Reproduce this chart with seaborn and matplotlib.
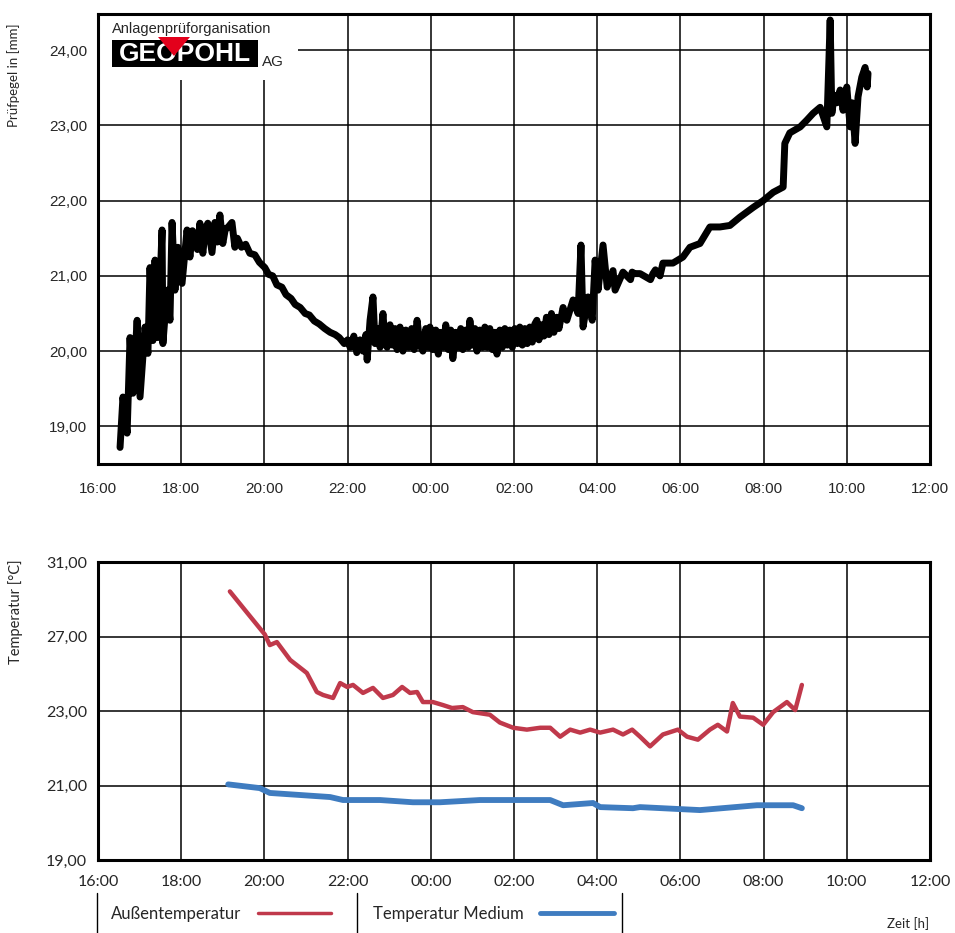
import numpy as np
import pandas as pd
import matplotlib
matplotlib.use("Agg")
import matplotlib.pyplot as plt
import seaborn as sns
from matplotlib.lines import Line2D
from matplotlib.patches import Rectangle, Polygon
from matplotlib.ticker import FuncFormatter, FixedLocator

# --- Prüfpegel (hours counted from 00:00 of day 1, so 24 = midnight) ---
pegel_h = [16.53, 16.60, 16.70, 16.77, 16.84, 16.94, 17.01, 17.13, 17.20, 17.25,
           17.32, 17.37, 17.44, 17.54, 17.56, 17.66, 17.73, 17.78, 17.85, 17.92,
           18.02, 18.14, 18.21, 18.27, 18.33, 18.39, 18.45, 18.52, 18.58, 18.64,
           18.74, 18.81, 18.87, 18.93, 19.00, 19.06, 19.13, 19.22, 19.29, 19.35,
           19.45, 19.55, 19.65, 19.77, 19.88, 20.01, 20.10, 20.20, 20.30, 20.42,
           20.52, 20.64, 20.74, 20.86, 20.98, 21.08, 21.20, 21.32, 21.45, 21.58,
           21.70, 21.80, 21.92, 22.00, 22.06, 22.15, 22.22, 22.30, 22.37, 22.44,
           22.47, 22.54, 22.61, 22.66, 22.71, 22.78, 22.85, 22.90, 22.95, 23.02,
           23.08, 23.14, 23.19, 23.26, 23.33, 23.40, 23.47, 23.54, 23.60, 23.67,
           23.74, 23.81, 23.88, 23.94, 23.98, 24.05, 24.12, 24.18, 24.22, 24.30,
           24.36, 24.42, 24.48, 24.53, 24.60, 24.66, 24.72, 24.77, 24.84, 24.90,
           24.94, 25.00, 25.06, 25.11, 25.18, 25.24, 25.30, 25.36, 25.42, 25.48,
           25.54, 25.59, 25.66, 25.72, 25.78, 25.84, 25.90, 25.96, 26.02, 26.08,
           26.14, 26.20, 26.26, 26.32, 26.38, 26.44, 26.50, 26.55, 26.60, 26.66,
           26.72, 26.78, 26.84, 26.90, 26.96, 27.03, 27.08, 27.18, 27.27, 27.42,
           27.54, 27.61, 27.66, 27.78, 27.88, 27.95, 28.02, 28.14, 28.24, 28.38,
           28.43, 28.62, 28.80, 28.84, 28.90, 29.03, 29.28, 29.34, 29.40, 29.51,
           29.58, 29.82, 30.06, 30.23, 30.47, 30.71, 30.95, 31.19, 31.43, 31.75,
           31.99, 32.23, 32.47, 32.51, 32.63, 32.88, 33.04, 33.19, 33.36, 33.52,
           33.60, 33.64, 33.70, 33.76, 33.84, 33.91, 34.00, 34.08, 34.13, 34.20,
           34.27, 34.36, 34.44, 34.49, 34.51]
pegel_mm = [18.72, 19.39, 18.91, 20.18, 19.44, 20.41, 19.39, 20.32, 19.97, 21.11,
            20.14, 21.21, 20.18, 21.61, 20.10, 20.81, 20.41, 21.71, 20.81, 21.38,
            20.90, 21.61, 21.25, 21.60, 21.51, 21.35, 21.70, 21.30, 21.62, 21.70,
            21.31, 21.71, 21.45, 21.81, 21.43, 21.62, 21.65, 21.71, 21.38, 21.50,
            21.38, 21.42, 21.30, 21.28, 21.18, 21.11, 21.02, 21.00, 20.88, 20.85,
            20.75, 20.70, 20.62, 20.58, 20.50, 20.48, 20.40, 20.36, 20.30, 20.25,
            20.22, 20.18, 20.10, 20.15, 20.05, 20.20, 19.98, 20.15, 20.00, 20.22,
            19.88, 20.41, 20.72, 20.10, 20.30, 20.05, 20.50, 20.12, 20.05, 20.35,
            20.08, 20.30, 20.02, 20.32, 20.00, 20.28, 20.05, 20.30, 20.02, 20.41,
            20.08, 20.00, 20.30, 20.05, 20.32, 20.02, 20.28, 19.96, 20.25, 20.05,
            20.35, 20.02, 20.28, 19.90, 20.25, 20.05, 20.30, 20.02, 20.28, 20.05,
            20.41, 20.08, 20.30, 20.00, 20.28, 20.05, 20.32, 20.05, 20.30, 20.02,
            20.25, 19.96, 20.28, 20.05, 20.30, 20.08, 20.28, 20.05, 20.30, 20.10,
            20.32, 20.08, 20.30, 20.10, 20.32, 20.12, 20.36, 20.41, 20.15, 20.35,
            20.20, 20.45, 20.22, 20.50, 20.25, 20.45, 20.30, 20.58, 20.41, 20.68,
            20.50, 21.41, 20.32, 20.72, 20.41, 21.21, 20.81, 21.41, 20.85, 21.07,
            20.81, 21.05, 20.95, 21.05, 21.03, 21.03, 20.95, 21.03, 21.08, 21.00,
            21.17, 21.17, 21.25, 21.38, 21.43, 21.65, 21.65, 21.67, 21.78, 21.91,
            22.00, 22.11, 22.18, 22.76, 22.90, 22.98, 23.07, 23.16, 23.24, 22.98,
            24.40, 23.16, 23.40, 23.30, 23.47, 23.20, 23.51, 22.98, 23.30, 22.76,
            23.38, 23.64, 23.77, 23.51, 23.69]

# --- Temperaturen ---
aussen_h = [19.17, 19.58, 20.01, 20.13, 20.30, 20.62, 20.93, 21.02, 21.26, 21.41,
            21.65, 21.82, 21.99, 22.13, 22.37, 22.61, 22.85, 23.09, 23.31, 23.50,
            23.67, 23.81, 24.05, 24.29, 24.51, 24.77, 25.01, 25.42, 25.66, 25.98,
            26.31, 26.63, 26.87, 27.11, 27.35, 27.59, 27.83, 28.07, 28.38, 28.62,
            28.84, 29.03, 29.27, 29.58, 29.94, 30.16, 30.42, 30.71, 30.90, 31.12,
            31.26, 31.43, 31.75, 31.99, 32.23, 32.56, 32.76, 32.92]
aussen_c = [29.42, 28.29, 27.11, 26.54, 26.70, 25.74, 25.20, 25.04, 24.02, 23.86,
            23.70, 24.50, 24.29, 24.40, 23.97, 24.24, 23.70, 23.86, 24.29, 23.97,
            24.02, 23.48, 23.48, 23.32, 23.16, 23.21, 22.97, 22.90, 22.69, 22.55,
            22.50, 22.55, 22.55, 22.31, 22.50, 22.42, 22.50, 22.42, 22.50, 22.37,
            22.50, 22.31, 22.05, 22.37, 22.50, 22.31, 22.23, 22.50, 22.63, 22.45,
            23.43, 22.85, 22.82, 22.63, 22.97, 23.48, 23.05, 24.40]

medium_h = [19.13, 19.89, 20.13, 21.58, 21.89, 22.78, 23.57, 24.22, 25.18, 25.98,
            26.87, 27.18, 27.90, 28.07, 28.86, 29.03, 30.47, 31.84, 32.71, 32.92]
medium_c = [21.03, 20.93, 20.80, 20.69, 20.61, 20.61, 20.55, 20.55, 20.61, 20.61,
            20.61, 20.47, 20.53, 20.42, 20.39, 20.42, 20.34, 20.47, 20.47, 20.39]

x_ticks = list(range(16, 38, 2))
pegel_ticks = [19, 20, 21, 22, 23, 24]
temp_ticks = [19, 21, 23, 27, 31]  # labelled at equal spacing in the original

sns.set_style("white")
plt.rcParams['font.family'] = ['Liberation Sans', 'DejaVu Sans']

fig = plt.figure(figsize=(9.55, 9.33), dpi=100)
W, H = 955, 933
ax1 = fig.add_axes([98 / W, 1 - 464 / H, 832 / W, 450 / H])
ax2 = fig.add_axes([98 / W, 1 - 860 / H, 832 / W, 298 / H])

df_p = pd.DataFrame({"h": pegel_h, "mm": pegel_mm})
sns.lineplot(data=df_p, x="h", y="mm", ax=ax1, color="black", linewidth=5,
             estimator=None, sort=False, zorder=3)

df_a = pd.DataFrame({"h": aussen_h, "c": aussen_c})
df_m = pd.DataFrame({"h": medium_h, "c": medium_c})

# piecewise scale so that the odd tick values sit at equal spacing
pos = np.arange(len(temp_ticks), dtype=float)
fwd = lambda v: np.interp(v, temp_ticks, pos)
inv = lambda p: np.interp(p, pos, temp_ticks)
ax2.set_yscale('function', functions=(fwd, inv))

sns.lineplot(data=df_a, x="h", y="c", ax=ax2, color="#c0394b", linewidth=3.2,
             estimator=None, sort=False, zorder=3)
sns.lineplot(data=df_m, x="h", y="c", ax=ax2, color="#3f7cc0", linewidth=4.2,
             estimator=None, sort=False, zorder=3)

hour_fmt = FuncFormatter(lambda v, p: "%02d:00" % (int(round(v)) % 24))
comma_fmt = FuncFormatter(lambda v, p: ("%.2f" % v).replace(".", ","))

for ax in (ax1, ax2):
    ax.set_xlim(16, 36)
    ax.xaxis.set_major_locator(FixedLocator(x_ticks))
    ax.xaxis.set_major_formatter(hour_fmt)
    ax.yaxis.set_major_formatter(comma_fmt)
    ax.grid(True, color="black", linewidth=1.1)
    ax.set_axisbelow(True)
    ax.set_xlabel("")
    ax.set_ylabel("")
    ax.tick_params(length=0, labelsize=11)
    for s in ax.spines.values():
        s.set_color("black")
        s.set_linewidth(2.2)

ax1.set_ylim(18.5, 24.48)
ax1.yaxis.set_major_locator(FixedLocator(pegel_ticks))
ax1.tick_params(axis="x", pad=13)
ax1.tick_params(axis="y", pad=8)

ax2.set_ylim(19, 31)
ax2.yaxis.set_major_locator(FixedLocator(temp_ticks))
ax2.yaxis.set_minor_locator(FixedLocator([]))
ax2.tick_params(axis="x", pad=11)
ax2.tick_params(axis="y", pad=8)
for lab in ax2.get_xticklabels() + ax2.get_yticklabels():
    lab.set_family(["Lato", "DejaVu Sans"])
    lab.set_fontsize(11.5)

# axis titles
fig.text(14 / W, 1 - 75 / H, "Prüfpegel in [mm]", rotation=90, ha="center",
         va="center", fontsize=9.5, family=["Lato", "DejaVu Sans"])
fig.text(16 / W, 1 - 612 / H, "Temperatur [°C]", rotation=90, ha="center",
         va="center", fontsize=10.5, family=["Lato", "DejaVu Sans"])
fig.text(908 / W, 1 - 924 / H, "Zeit [h]", ha="center", va="center",
         fontsize=9.5, family=["Lato", "DejaVu Sans"])

# logo area
ax1.add_patch(Rectangle((0, 0.853), 0.24, 0.147, transform=ax1.transAxes,
                        facecolor="white", edgecolor="none", zorder=1))
fig.text(112 / W, 1 - 29 / H, "Anlagenprüforganisation", ha="left", va="center",
         fontsize=10.5)
fig.add_artist(Rectangle((112 / W, 1 - 67 / H), 146 / W, 27 / H,
                         facecolor="black", edgecolor="none", zorder=4))
fig.text(185 / W, 1 - 54 / H, "GEOPOHL", ha="center", va="center", fontsize=19,
         color="white", fontweight="bold", zorder=5)
fig.add_artist(Polygon([(158 / W, 1 - 37 / H), (190 / W, 1 - 37 / H),
                        (174 / W, 1 - 56 / H)], closed=True,
                       facecolor="#e3001b", edgecolor="none", zorder=6))
fig.text(262 / W, 1 - 62 / H, "AG", ha="left", va="center", fontsize=11)

# legend below the lower chart
handles = [Line2D([], [], color="#c0394b", linewidth=2.5),
           Line2D([], [], color="#3f7cc0", linewidth=3.5)]
fig.legend(handles, ["Außentemperatur", "Temperatur Medium"], loc="center left",
           bbox_to_anchor=(96 / W, 1 - 914 / H), ncol=2, markerfirst=False,
           frameon=False, handlelength=4.4, handletextpad=1.0, columnspacing=2.5,
           prop={"family": ["Lato", "DejaVu Sans"], "size": 12})
for xp in (97, 357, 622):
    fig.add_artist(Line2D([xp / W, xp / W], [0, 1 - 893 / H], color="black",
                          linewidth=1.0))

fig.savefig("out.png", dpi=100)
